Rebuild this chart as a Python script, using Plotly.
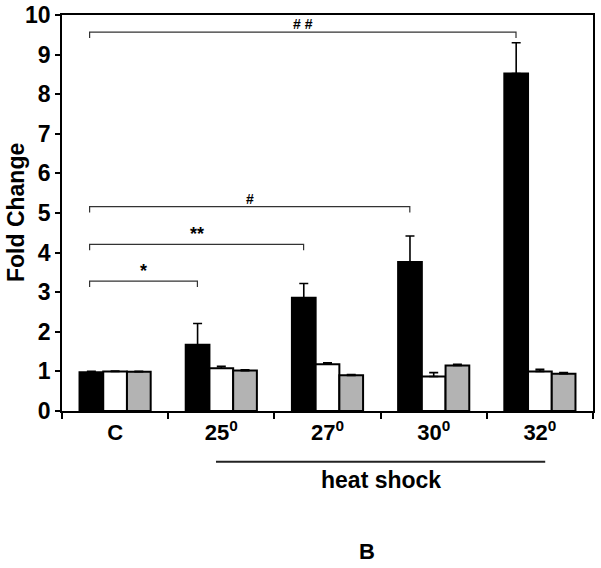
import plotly.graph_objects as go

categories = ["C", "25<sup>0</sup>", "27<sup>0</sup>", "30<sup>0</sup>", "32<sup>0</sup>"]
black_vals = [0.98, 1.67, 2.86, 3.76, 8.52]
black_err = [0.02, 0.54, 0.36, 0.66, 0.78]
white_vals = [1.00, 1.08, 1.18, 0.87, 1.00]
white_err = [0.01, 0.05, 0.04, 0.10, 0.05]
grey_vals = [0.99, 1.02, 0.90, 1.15, 0.94]
grey_err = [0.01, 0.02, 0.02, 0.03, 0.03]
y_ticks = [0, 1, 2, 3, 4, 5, 6, 7, 8, 9, 10]

# significance brackets: (label, right category index, bracket level, label font size)
brackets = [
    ("*", 1, 3.28, 18),
    ("**", 2, 4.21, 18),
    ("#", 3, 5.16, 14),
    ("# #", 4, 9.57, 14),
]

FONT = "Liberation Sans, Arial, sans-serif"
xs = list(range(len(categories)))

fig = go.Figure()
for vals, errs, color in [
    (black_vals, black_err, "black"),
    (white_vals, white_err, "white"),
    (grey_vals, grey_err, "#b3b3b3"),
]:
    fig.add_trace(go.Bar(
        x=xs, y=vals,
        marker=dict(color=color, line=dict(color="black", width=2)),
        error_y=dict(type="data", array=errs, arrayminus=[0] * len(errs),
                     symmetric=False, color="black", thickness=1.6, width=4.5),
        showlegend=False,
    ))

shapes = []
annotations = []
off = 0.225
for label, idx, lvl, fs in brackets:
    x0 = -0.24
    x1 = idx - off
    shapes.append(dict(type="path", xref="x", yref="y",
                       path=f"M {x0},{lvl-0.15} L {x0},{lvl} L {x1},{lvl} L {x1},{lvl-0.15}",
                       line=dict(color="#333333", width=1.2)))
    annotations.append(dict(x=(x0 + x1) / 2, y=lvl, xref="x", yref="y", text=label,
                            showarrow=False, xanchor="center", yanchor="bottom", yshift=-2,
                            font=dict(family=FONT, size=fs, color="black", weight="bold")))

# heat shock underline
shapes.append(dict(type="line", xref="x", yref="paper", x0=0.95, x1=4.05,
                   y0=-0.128, y1=-0.128, line=dict(color="#222222", width=2)))
annotations.append(dict(x=2.5, y=-0.174, xref="x", yref="paper", text="heat shock",
                        showarrow=False, xanchor="center", yanchor="middle",
                        font=dict(family=FONT, size=23, color="black", weight="bold")))
annotations.append(dict(x=2.37, y=-0.355, xref="x", yref="paper", text="B",
                        showarrow=False, xanchor="center", yanchor="middle",
                        font=dict(family=FONT, size=22, color="black", weight="bold")))
annotations.append(dict(x=-0.0866, y=0.5, xref="paper", yref="paper", text="Fold Change",
                        textangle=-90, showarrow=False, xanchor="center", yanchor="middle",
                        font=dict(family=FONT, size=23, color="black", weight="bold")))

fig.update_layout(
    width=601, height=568,
    margin=dict(l=62, r=8, t=15, b=157),
    paper_bgcolor="white", plot_bgcolor="white",
    barmode="group", bargap=0.33, bargroupgap=0,
    shapes=shapes, annotations=annotations,
    font=dict(family=FONT, color="black"),
)
fig.update_xaxes(
    range=[-0.5, 4.5], tickvals=xs, ticktext=categories, ticks="",
    tickfont=dict(family=FONT, size=22, color="black", weight="bold"),
    showline=True, linecolor="black", linewidth=1.6, mirror=True,
    showgrid=False, zeroline=False, ticklabelstandoff=1, automargin=False,
    minor=dict(tick0=-0.5, dtick=1, ticks="outside", ticklen=6, tickwidth=1.5, tickcolor="black"),
)
fig.update_yaxes(
    range=[0, 10], tickvals=y_ticks, ticks="outside", ticklen=5, tickwidth=1.5, tickcolor="black",
    tickfont=dict(family=FONT, size=23, color="black", weight="bold"),
    showline=True, linecolor="black", linewidth=1.6, mirror=True,
    showgrid=False, zeroline=False, automargin=False,
)

fig.write_html("out.html", config={"displayModeBar": False},
               post_script="document.body.style.margin='0';")
